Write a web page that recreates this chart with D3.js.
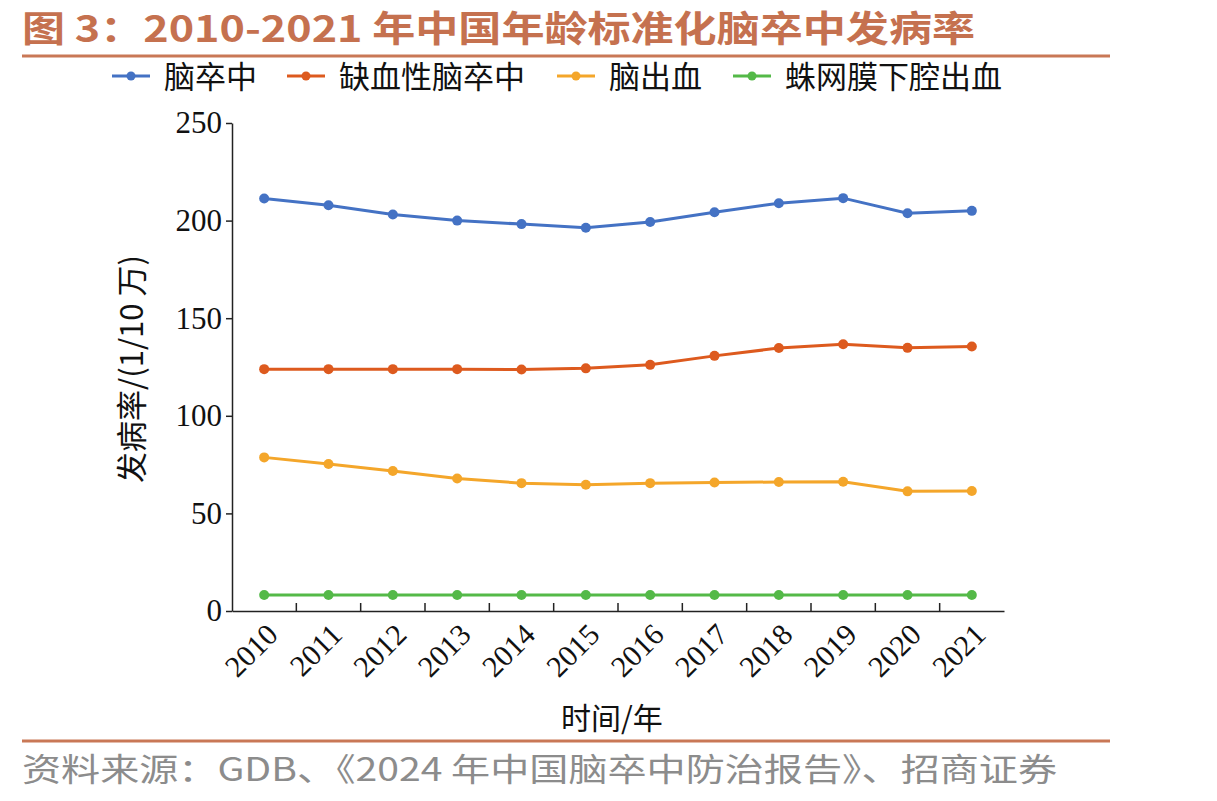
<!DOCTYPE html>
<html><head><meta charset="utf-8">
<script src="https://cdn.jsdelivr.net/npm/d3@7"></script>
<style>body{margin:0;background:#fff}</style>
</head><body>
<svg id="c" width="1217" height="801"></svg>
<script>
const years = ["2010","2011","2012","2013","2014","2015","2016","2017","2018","2019","2020","2021"];
const seriesNames = ["脑卒中","缺血性脑卒中","脑出血","蛛网膜下腔出血"];
const stroke = [211.3,207.9,203.1,200.0,198.2,196.3,199.3,204.3,208.9,211.5,203.8,205.0];
const ischemic = [123.9,123.9,123.9,123.9,123.7,124.3,126.1,130.7,134.7,136.7,134.8,135.5];
const hemorrhage = [78.7,75.3,71.7,67.9,65.5,64.7,65.5,65.8,66.1,66.2,61.3,61.5];
const subarachnoid = [8.2,8.2,8.2,8.2,8.2,8.2,8.2,8.2,8.2,8.2,8.2,8.2];
const yTicks = [0,50,100,150,200,250];
const colors = ["#4472c4","#dd5a1e","#f4a62a","#54b948"];
const allSeries = [stroke, ischemic, hemorrhage, subarachnoid];

(function(){
const svg = d3.select("#c");
const serif = "'Liberation Serif','Times New Roman',serif";
const cjk = "'Noto Sans CJK SC',sans-serif";

svg.append("text").attr("x",22).attr("y",42).attr("fill","#c5714f")
  .attr("font-family",cjk).attr("font-weight","bold").attr("font-size",36)
  .attr("textLength",953).attr("lengthAdjust","spacingAndGlyphs")
  .text("图 3：2010-2021 年中国年龄标准化脑卒中发病率");
svg.append("line").attr("x1",22).attr("x2",1110).attr("y1",56).attr("y2",56)
  .attr("stroke","#c97856").attr("stroke-width",3);
svg.append("line").attr("x1",22).attr("x2",1110).attr("y1",741).attr("y2",741)
  .attr("stroke","#c97856").attr("stroke-width",3);
svg.append("text").attr("x",22).attr("y",781).attr("fill","#8c8c8c")
  .attr("font-family",cjk).attr("font-size",32)
  .attr("textLength",1035).attr("lengthAdjust","spacingAndGlyphs")
  .text("资料来源：GDB、《2024 年中国脑卒中防治报告》、招商证券");

const legX = [112,287,557,733];
seriesNames.forEach((n,i)=>{
  const g = svg.append("g");
  g.append("line").attr("x1",legX[i]).attr("x2",legX[i]+38).attr("y1",76).attr("y2",76)
    .attr("stroke",colors[i]).attr("stroke-width",3);
  g.append("circle").attr("cx",legX[i]+19).attr("cy",76).attr("r",4.5).attr("fill",colors[i]);
  g.append("text").attr("x",legX[i]+52).attr("y",88).attr("font-family",cjk)
    .attr("font-size",31).attr("fill","#111").text(n);
});

const pl=232, pr=1004, pt=123, pb=611;
const x = d3.scaleBand().domain(years).range([pl,pr]);
const y = d3.scaleLinear().domain([0,250]).range([pb,pt]);

const ya = svg.append("g").attr("transform",`translate(${pl},0)`)
  .call(d3.axisLeft(y).tickValues(yTicks).tickSize(6).tickSizeOuter(0));
ya.select(".domain").attr("stroke","#222").attr("stroke-width",1.5);
ya.selectAll(".tick line").attr("stroke","#222").attr("stroke-width",1.5);
ya.selectAll("text").attr("font-family",serif).attr("font-size",31).attr("fill","#111").attr("dx",-1);

const xa = svg.append("g").attr("transform",`translate(0,${pb})`)
  .call(d3.axisBottom(x).tickSize(0).tickSizeOuter(0));
xa.select(".domain").attr("stroke","#222").attr("stroke-width",1.5);
xa.selectAll("text").attr("font-family",serif).attr("font-size",30).attr("fill","#111")
  .attr("text-anchor","end").attr("dy","0.35em")
  .attr("x",0).attr("y",0)
  .attr("transform",`translate(8,18) rotate(-45)`);
const bounds = years.slice(1).map(d=>x(d));
svg.append("g").selectAll("line").data(bounds).join("line")
  .attr("x1",d=>d).attr("x2",d=>d).attr("y1",pb).attr("y2",pb-8)
  .attr("stroke","#222").attr("stroke-width",1.5);

svg.append("text").attr("transform","translate(143,369) rotate(-90)")
  .attr("text-anchor","middle").attr("font-family",cjk).attr("font-size",31).attr("fill","#111")
  .text("发病率/(1/10 万)");
svg.append("text").attr("x",612).attr("y",729).attr("text-anchor","middle")
  .attr("font-family",cjk).attr("font-size",30).attr("fill","#111").text("时间/年");

const line = d3.line().x((d,i)=>x(years[i])+x.bandwidth()/2).y(d=>y(d));
allSeries.forEach((s,i)=>{
  svg.append("path").datum(s).attr("d",line).attr("fill","none")
    .attr("stroke",colors[i]).attr("stroke-width",3);
  svg.append("g").selectAll("circle").data(s).join("circle")
    .attr("cx",(d,j)=>x(years[j])+x.bandwidth()/2).attr("cy",d=>y(d))
    .attr("r",5).attr("fill",colors[i]);
});
})();
</script>
</body></html>
